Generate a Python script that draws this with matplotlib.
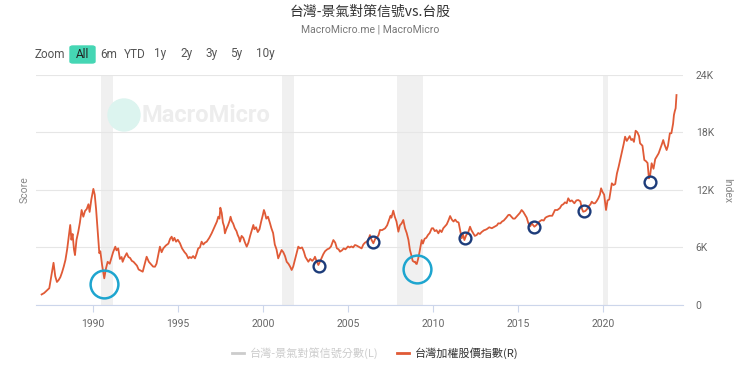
import matplotlib
matplotlib.use('Agg')
import matplotlib.pyplot as plt
from matplotlib.patches import Ellipse, FancyBboxPatch
import numpy as np

# TAIEX index (decimal year, index level)
taiex = [
    (1987.0, 1100), (1987.15, 1250), (1987.3, 1500), (1987.45, 1750), (1987.6, 3300),
    (1987.7, 4400), (1987.8, 3000), (1987.9, 2400), (1988.0, 2600), (1988.1, 2900),
    (1988.2, 3400), (1988.3, 4000), (1988.4, 4700), (1988.5, 5800), (1988.6, 7200),
    (1988.68, 8340), (1988.75, 6800), (1988.82, 7400), (1988.9, 5800), (1988.96, 5200),
    (1989.05, 6800), (1989.15, 7600), (1989.25, 8600), (1989.35, 9900), (1989.45, 9200),
    (1989.55, 9800), (1989.65, 10000), (1989.75, 10500), (1989.82, 9700), (1989.92, 11000),
    (1990.04, 12100), (1990.12, 11500), (1990.2, 10000), (1990.3, 7500), (1990.39, 5400),
    (1990.45, 5600), (1990.55, 4200), (1990.68, 2780), (1990.78, 3800), (1990.88, 4500),
    (1991.0, 4300), (1991.1, 4900), (1991.2, 5500), (1991.33, 6080), (1991.4, 5700),
    (1991.5, 5900), (1991.6, 4800), (1991.7, 5000), (1991.76, 4500), (1991.85, 4900),
    (1992.0, 5400), (1992.1, 5000), (1992.2, 4900), (1992.3, 4600), (1992.4, 4500),
    (1992.5, 4300), (1992.6, 4100), (1992.7, 3700), (1992.8, 3600), (1992.94, 3470),
    (1993.05, 4200), (1993.17, 5030), (1993.3, 4500), (1993.45, 4200), (1993.55, 4000),
    (1993.66, 3990), (1993.75, 4300), (1993.85, 5200), (1993.95, 6080), (1994.05, 5500),
    (1994.15, 5900), (1994.3, 6200), (1994.45, 6400), (1994.55, 6900), (1994.64, 7120),
    (1994.72, 6700), (1994.8, 7000), (1994.9, 6600), (1995.0, 6800), (1995.13, 6430),
    (1995.25, 5900), (1995.4, 5500), (1995.5, 5300), (1995.62, 4860), (1995.7, 5000),
    (1995.8, 4900), (1995.9, 5100), (1996.01, 4860), (1996.1, 5300), (1996.2, 5900),
    (1996.3, 6000), (1996.4, 6600), (1996.5, 6300), (1996.6, 6500), (1996.7, 6600),
    (1996.85, 7000), (1996.99, 7470), (1997.1, 7900), (1997.2, 8300), (1997.3, 8700),
    (1997.38, 9200), (1997.45, 9000), (1997.5, 10140), (1997.58, 9600), (1997.65, 8600),
    (1997.72, 8200), (1997.77, 7470), (1997.85, 7900), (1997.95, 8300), (1998.05, 8800),
    (1998.1, 9200), (1998.18, 8700), (1998.25, 8500), (1998.35, 8000), (1998.45, 7700),
    (1998.52, 7300), (1998.6, 7000), (1998.65, 6600), (1998.75, 7200), (1998.85, 7000),
    (1998.95, 6500), (1999.05, 6080), (1999.15, 6500), (1999.25, 7200), (1999.35, 7800),
    (1999.44, 8340), (1999.5, 7900), (1999.6, 8100), (1999.7, 7600), (1999.8, 7900),
    (1999.9, 8700), (2000.0, 9400), (2000.06, 9900), (2000.12, 9600), (2000.2, 9000),
    (2000.3, 9200), (2000.42, 8510), (2000.5, 8000), (2000.6, 7500), (2000.7, 6300),
    (2000.8, 5800), (2000.9, 4860), (2001.0, 5300), (2001.1, 5730), (2001.2, 5500),
    (2001.3, 5100), (2001.4, 4500), (2001.5, 4300), (2001.6, 4000), (2001.69, 3650),
    (2001.78, 4000), (2001.88, 4700), (2002.0, 5500), (2002.08, 6080), (2002.18, 5900),
    (2002.3, 6000), (2002.4, 5600), (2002.5, 5000), (2002.6, 4700), (2002.67, 4510),
    (2002.78, 4800), (2002.9, 4600), (2003.0, 4800), (2003.06, 5030), (2003.15, 4600),
    (2003.26, 4170), (2003.35, 4500), (2003.45, 4900), (2003.55, 5300), (2003.65, 5600),
    (2003.78, 5800), (2003.9, 5900), (2004.0, 6100), (2004.14, 6770), (2004.25, 6500),
    (2004.35, 5900), (2004.45, 5800), (2004.53, 5560), (2004.65, 5700), (2004.75, 5900),
    (2004.85, 5800), (2005.0, 6100), (2005.1, 6000), (2005.2, 6100), (2005.3, 6000),
    (2005.41, 6250), (2005.5, 6200), (2005.6, 6100), (2005.7, 6000), (2005.8, 5900),
    (2005.9, 6300), (2006.0, 6500), (2006.1, 6600), (2006.2, 6800), (2006.29, 7290),
    (2006.38, 6800), (2006.49, 6430), (2006.6, 6900), (2006.7, 7000), (2006.8, 7300),
    (2006.88, 7820), (2007.0, 7800), (2007.1, 7900), (2007.18, 7990), (2007.3, 8300),
    (2007.4, 8800), (2007.5, 9300), (2007.55, 9100), (2007.66, 9830), (2007.75, 9200),
    (2007.85, 8700), (2007.96, 7640), (2008.05, 8300), (2008.15, 8500), (2008.25, 8860),
    (2008.35, 8000), (2008.45, 7500), (2008.55, 6800), (2008.64, 5730), (2008.72, 5200),
    (2008.8, 4600), (2008.88, 4500), (2008.94, 4510), (2009.0, 4300), (2009.04, 4270),
    (2009.12, 4800), (2009.2, 5500), (2009.33, 6770), (2009.4, 6400), (2009.5, 6900),
    (2009.6, 7000), (2009.7, 7300), (2009.8, 7500), (2009.92, 7990), (2010.0, 8000),
    (2010.1, 7700), (2010.2, 7800), (2010.31, 7470), (2010.4, 7800), (2010.5, 7600),
    (2010.6, 8000), (2010.7, 8200), (2010.8, 8400), (2010.9, 8800), (2011.0, 9270),
    (2011.1, 8900), (2011.2, 8700), (2011.3, 8900), (2011.39, 8680), (2011.5, 8600),
    (2011.6, 7700), (2011.68, 6950), (2011.75, 7400), (2011.84, 6770), (2011.95, 7300),
    (2012.05, 7500), (2012.17, 8160), (2012.25, 7800), (2012.35, 7500), (2012.45, 7200),
    (2012.56, 7290), (2012.65, 7500), (2012.75, 7400), (2012.85, 7600), (2013.0, 7800),
    (2013.05, 7820), (2013.15, 7900), (2013.3, 8100), (2013.45, 8000), (2013.55, 8100),
    (2013.65, 8200), (2013.75, 8300), (2013.83, 8510), (2013.95, 8500), (2014.05, 8700),
    (2014.15, 8800), (2014.3, 9100), (2014.42, 9380), (2014.5, 9400), (2014.6, 9200),
    (2014.7, 9000), (2014.8, 9000), (2014.9, 9200), (2015.0, 9400), (2015.1, 9600),
    (2015.2, 9900), (2015.3, 9700), (2015.4, 9400), (2015.5, 9100), (2015.6, 8510),
    (2015.7, 8200), (2015.8, 8500), (2015.95, 8160), (2016.05, 8300), (2016.15, 8500),
    (2016.25, 8700), (2016.38, 8860), (2016.5, 8800), (2016.6, 9100), (2016.7, 9200),
    (2016.85, 9300), (2017.0, 9300), (2017.16, 9900), (2017.3, 9900), (2017.45, 10100),
    (2017.55, 10400), (2017.65, 10500), (2017.75, 10700), (2017.85, 10600), (2017.94, 11120),
    (2018.05, 10800), (2018.15, 10900), (2018.3, 10600), (2018.42, 10900), (2018.53, 10940),
    (2018.65, 10800), (2018.75, 10000), (2018.82, 9720), (2018.95, 9800), (2019.05, 10000),
    (2019.15, 10300), (2019.25, 10500), (2019.32, 10770), (2019.42, 10600), (2019.51, 10600),
    (2019.6, 10800), (2019.7, 11100), (2019.8, 11500), (2019.87, 12160), (2019.95, 11800),
    (2020.05, 11500), (2020.16, 9900), (2020.25, 10900), (2020.35, 11000), (2020.5, 12680),
    (2020.6, 12500), (2020.7, 12600), (2020.8, 13700), (2020.9, 14400), (2020.99, 15110),
    (2021.1, 16000), (2021.2, 16800), (2021.28, 17540), (2021.38, 17100), (2021.48, 17400),
    (2021.55, 17600), (2021.64, 17190), (2021.72, 17300), (2021.8, 17000), (2021.9, 18160),
    (2022.0, 18000), (2022.1, 17600), (2022.16, 16850), (2022.3, 16600), (2022.41, 15110),
    (2022.5, 15000), (2022.6, 14800), (2022.68, 13200), (2022.75, 13500), (2022.84, 14770),
    (2022.95, 14200), (2023.05, 15200), (2023.15, 15500), (2023.25, 15800), (2023.35, 16300),
    (2023.45, 16800), (2023.52, 17190), (2023.6, 16700), (2023.72, 16150), (2023.8, 16600),
    (2023.91, 17890), (2024.0, 17900), (2024.1, 18900), (2024.15, 19800), (2024.2, 20200),
    (2024.25, 20500), (2024.3, 21880),
]
dates = [d for d, v in taiex]
values = [v for d, v in taiex]

# grey plot bands (periods)
bands = [(1990.5, 1991.2), (2001.1, 2001.85), (2007.9, 2009.4), (2020.0, 2020.25)]

# annotation circles
big_x = [1990.65, 2009.04]
big_y = [2190, 3780]
small_x = [2003.28, 2006.49, 2011.86, 2015.93, 2018.89, 2022.75]
small_y = [4100, 6560, 6980, 8160, 9830, 12820]

xticks = [1990, 1995, 2000, 2005, 2010, 2015, 2020]
yticks = [0, 6000, 12000, 18000, 24000]
ytick_labels = ['0', '6K', '12K', '18K', '24K']
buttons = ['6m', 'YTD', '1y', '2y', '3y', '5y', '10y']
button_x = [100, 124, 154, 180, 205, 230, 256]

cjk = ['Noto Sans CJK TC', 'DejaVu Sans']
latin = ['Roboto', 'DejaVu Sans']
line_color = '#e05a36'
grey = '#666666'

fig = plt.figure(figsize=(7.4, 3.69), dpi=100)
ax = fig.add_axes([36 / 740, 1 - 305 / 369, (683.3 - 36) / 740, (305 - 74.7) / 369])

for a, b in bands:
    ax.axvspan(a, b, color='#f0f0f0', zorder=0, lw=0)

ax.plot(dates, values, color=line_color, lw=1.3, zorder=3)
ax.plot(big_x, big_y, 'o', ms=20, mfc='none', mec='#1ea5cf', mew=1.8, zorder=4)
ax.plot(small_x, small_y, 'o', ms=8.5, mfc='none', mec='#1d3c7a', mew=1.7, zorder=4)

ax.set_xlim(1986.67, 2024.7)
ax.set_ylim(0, 24000)
ax.yaxis.tick_right()
ax.set_yticks(yticks)
ax.set_yticklabels(ytick_labels, family=latin, fontsize=7.5, color=grey)
ax.set_xticks(xticks)
ax.set_xticklabels([str(t) for t in xticks], family=latin, fontsize=7.5, color=grey)
ax.tick_params(axis='y', length=0, pad=9)
ax.tick_params(axis='x', length=5, color='#ccd6eb', pad=5)
ax.grid(axis='y', color='#e6e6e6', lw=0.8)
for s in ['top', 'left', 'right']:
    ax.spines[s].set_visible(False)
ax.spines['bottom'].set_color('#ccd6eb')
ax.set_axisbelow(True)

fig.text(25 / 740, 1 - 190 / 369, 'Score', rotation=90, ha='center', va='center',
         family=latin, fontsize=7.5, color='#888888')
fig.text(727 / 740, 1 - 190 / 369, 'Index', rotation=270, ha='center', va='center',
         family=latin, fontsize=7.5, color='#888888')

# watermark
fig.patches.append(Ellipse((124 / 740, 1 - 115 / 369), 32 / 740, 32 / 369,
                           transform=fig.transFigure, color='#dcf4ef', zorder=1))
fig.text(206 / 740, 1 - 115 / 369, 'MacroMicro', ha='center', va='center',
         family=latin, fontsize=17, fontweight='bold', color='#ededed')

# titles
fig.text(0.5, 1 - 12 / 369, '台灣-景氣對策信號vs.台股', ha='center', va='center',
         family=cjk, fontsize=10, color='#333333')
fig.text(0.5, 1 - 29 / 369, 'MacroMicro.me | MacroMicro', ha='center', va='center',
         family=latin, fontsize=7.5, color='#777777')

# range selector
fig.text(35 / 740, 1 - 54 / 369, 'Zoom', ha='left', va='center', family=latin,
         fontsize=8.5, color='#555555')
fig.patches.append(FancyBboxPatch((70 / 740, 1 - 63 / 369), 25 / 740, 17 / 369,
                                  boxstyle='round,pad=0,rounding_size=0.004',
                                  transform=fig.transFigure, color='#45d6b4'))
fig.text(82.5 / 740, 1 - 54 / 369, 'All', ha='center', va='center', family=latin,
         fontsize=8.5, color='#222222')
for lab, bx in zip(buttons, button_x):
    fig.text(bx / 740, 1 - 54 / 369, lab, ha='left', va='center', family=latin,
             fontsize=8.5, color='#555555')

# legend
ly = 1 - 353 / 369
fig.lines.append(plt.Line2D([232 / 740, 244 / 740], [ly, ly], transform=fig.transFigure,
                            color='#cccccc', lw=2))
fig.text(250 / 740, ly, '台灣-景氣對策信號分數(L)', ha='left', va='center', family=cjk,
         fontsize=8, color='#cccccc')
fig.lines.append(plt.Line2D([397 / 740, 409 / 740], [ly, ly], transform=fig.transFigure,
                            color=line_color, lw=2))
fig.text(415 / 740, ly, '台灣加權股價指數(R)', ha='left', va='center', family=cjk,
         fontsize=8, color='#333333')

fig.savefig('out.png', dpi=100, facecolor='white')
